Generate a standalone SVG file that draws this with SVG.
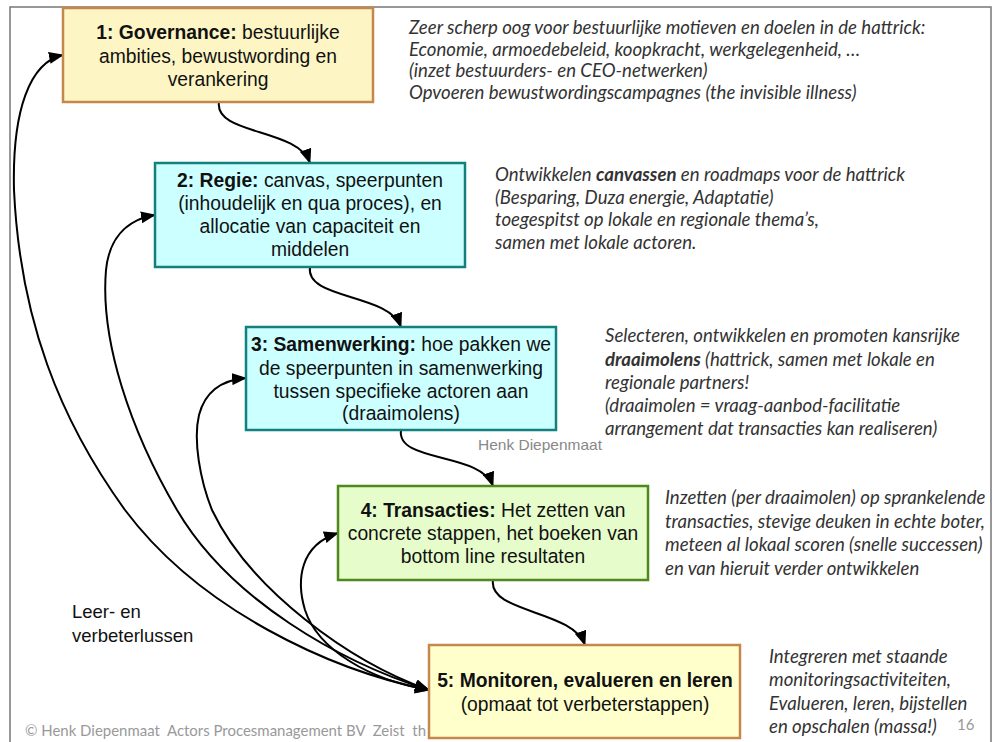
<svg xmlns="http://www.w3.org/2000/svg" width="1008" height="742" viewBox="0 0 1008 742">
<style>
.bx{font-family:"Liberation Sans",Arial,sans-serif;font-size:19.3px;fill:#111;text-anchor:middle}
.lb{font-family:"Liberation Sans",Arial,sans-serif;font-size:18.5px;fill:#111}
.b{font-weight:bold}
.it{font-family:Lato,"Liberation Sans",sans-serif;font-style:italic;font-size:18.6px;fill:#333}
.con{fill:none;stroke:#000;stroke-width:2}
.gov{fill:#fdf6c4;stroke:#c4884c;stroke-width:2.5}
.reg{fill:#ccffff;stroke:#12807e;stroke-width:2.5}
.tra{fill:#e6fdcb;stroke:#4d891d;stroke-width:2.5}
.mon{fill:#ffffcc;stroke:#c4884c;stroke-width:2.5}
.gray{font-family:"Liberation Sans",Arial,sans-serif;font-size:15px;fill:#888}
.foot{font-family:Lato,"Liberation Sans",sans-serif;font-size:15px;fill:#999;white-space:pre}
</style>
<defs>
<marker id="ah" viewBox="0 0 15 12" refX="14" refY="6" markerWidth="15" markerHeight="12" markerUnits="userSpaceOnUse" orient="auto-start-reverse">
<path d="M0,0 L15,6 L0,12 Z" fill="#000"/>
</marker>
<clipPath id="frameclip"><rect x="10" y="7" width="981" height="735"/></clipPath>
</defs>
<rect width="1008" height="742" fill="#fff"/>
<path d="M10,742 V7 H991 V742" fill="none" stroke="#777" stroke-width="1.5"/>

<g id="notes" clip-path="url(#frameclip)">
<text class="it" x="409" y="34">Zeer scherp oog voor bestuurlijke motieven en doelen in de hattrick:</text>
<text class="it" x="409" y="55.5">Economie, armoedebeleid, koopkracht, werkgelegenheid, …</text>
<text class="it" x="409" y="77">(inzet bestuurders- en CEO-netwerken)</text>
<text class="it" x="409" y="98.5">Opvoeren bewustwordingscampagnes (the invisible illness)</text>
<text class="it" x="495" y="181">Ontwikkelen <tspan font-weight="bold">canvassen</tspan> en roadmaps voor de hattrick</text>
<text class="it" x="495" y="203.5">(Besparing, Duza energie, Adaptatie)</text>
<text class="it" x="495" y="226">toegespitst op lokale en regionale thema’s,</text>
<text class="it" x="495" y="248.5">samen met lokale actoren.</text>
<text class="it" x="605" y="342">Selecteren, ontwikkelen en promoten kansrijke</text>
<text class="it" x="605" y="365.5"><tspan font-weight="bold">draaimolens</tspan> (hattrick, samen met lokale en</text>
<text class="it" x="605" y="389">regionale partners!</text>
<text class="it" x="605" y="412">(draaimolen = vraag-aanbod-facilitatie</text>
<text class="it" x="605" y="435">arrangement dat transacties kan realiseren)</text>
<text class="it" x="665" y="504">Inzetten (per draaimolen) op sprankelende</text>
<text class="it" x="665" y="527.5">transacties, stevige deuken in echte boter,</text>
<text class="it" x="665" y="551">meteen al lokaal scoren (snelle successen)</text>
<text class="it" x="665" y="574.5">en van hieruit verder ontwikkelen</text>
<text class="it" x="769" y="663">Integreren met staande</text>
<text class="it" x="769" y="686">monitoringsactiviteiten,</text>
<text class="it" x="769" y="709.5">Evalueren, leren, bijstellen</text>
<text class="it" x="769" y="733">en opschalen (massa!)</text>
</g>

<text class="gray" x="478" y="450" textLength="124" lengthAdjust="spacingAndGlyphs">Henk Diepenmaat</text>
<text class="lb" x="72" y="618">Leer- en</text>
<text class="lb" x="72" y="642">verbeterlussen</text>
<text class="foot" x="25" y="736" textLength="401" lengthAdjust="spacingAndGlyphs">© Henk Diepenmaat  Actors Procesmanagement BV  Zeist  th</text>
<text class="foot" x="957" y="730" font-size="13">16</text>

<g id="connectors">
<path class="con" marker-end="url(#ah)" d="M219,102 C214,135 298,128 310,163"/>
<path class="con" marker-end="url(#ah)" d="M310,267 C305,300 389,293 401,327"/>
<path class="con" marker-end="url(#ah)" d="M401,430 C396,463 481,452 493,486"/>
<path class="con" marker-end="url(#ah)" d="M493,580 C488,613 573,610 585,645"/>
<path class="con" marker-start="url(#ah)" marker-end="url(#ah)" d="M429,690 C330,670 200,610 125,510 C60,420 20,320 14,190 C12,110 30,62 63,55"/>
<path class="con" marker-start="url(#ah)" marker-end="url(#ah)" d="M429,690 C340,662 230,600 177,510 C130,430 100,340 106,270 C109,240 125,220 155,215"/>
<path class="con" marker-start="url(#ah)" marker-end="url(#ah)" d="M429,690 C350,662 250,590 212,510 C200,480 193,440 199,415 C205,392 222,380 246,378"/>
<path class="con" marker-start="url(#ah)" marker-end="url(#ah)" d="M429,690 C370,680 318,650 305,610 C296,580 300,545 338,533"/>
</g>

<g id="n1">
<rect class="gov" x="63" y="8" width="310" height="94"/>
<text class="bx" x="218" y="39"><tspan class="b">1: Governance:</tspan> bestuurlijke</text>
<text class="bx" x="218" y="62.5">ambities, bewustwording en</text>
<text class="bx" x="218" y="86">verankering</text>
</g>
<g id="n2">
<rect class="reg" x="155" y="163" width="310" height="104"/>
<text class="bx" x="310" y="187"><tspan class="b">2: Regie:</tspan> canvas, speerpunten</text>
<text class="bx" x="310" y="210">(inhoudelijk en qua proces), en</text>
<text class="bx" x="310" y="233">allocatie van capaciteit en</text>
<text class="bx" x="310" y="256">middelen</text>
</g>
<g id="n3">
<rect class="reg" x="246" y="327" width="310" height="103"/>
<text class="bx" x="401" y="351"><tspan class="b">3: Samenwerking:</tspan> hoe pakken we</text>
<text class="bx" x="401" y="374.5">de speerpunten in samenwerking</text>
<text class="bx" x="401" y="397.5">tussen specifieke actoren aan</text>
<text class="bx" x="401" y="420">(draaimolens)</text>
</g>
<g id="n4">
<rect class="tra" x="338" y="486" width="310" height="94"/>
<text class="bx" x="493" y="517"><tspan class="b">4: Transacties:</tspan> Het zetten van</text>
<text class="bx" x="493" y="540">concrete stappen, het boeken van</text>
<text class="bx" x="493" y="563">bottom line resultaten</text>
</g>
<g id="n5">
<rect class="mon" x="429" y="645" width="311" height="93"/>
<text class="bx b" x="585" y="687">5: Monitoren, evalueren en leren</text>
<text class="bx" x="585" y="711">(opmaat tot verbeterstappen)</text>
</g>
</svg>
